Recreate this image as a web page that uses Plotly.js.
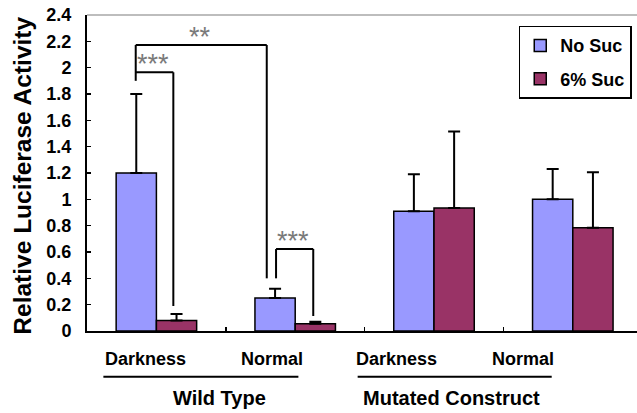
<!DOCTYPE html>
<html>
<head>
<meta charset="utf-8">
<script src="https://cdn.plot.ly/plotly-3.0.1.min.js"></script>
<style>html,body{margin:0;padding:0;background:#fff;}#chart{width:637px;height:413px;}</style>
</head>
<body>
<div id="chart"></div>
<script>
// ---- data ----
const categories = ["WT Darkness", "WT Normal", "MC Darkness", "MC Normal"];
const conditionLabels = ["Darkness", "Normal", "Darkness", "Normal"];
const groupLabels = ["Wild Type", "Mutated Construct"];
const seriesNames = ["No Suc", "6% Suc"];
const noSucValues = [1.20, 0.25, 0.91, 1.00];
const noSucErrors = [0.60, 0.07, 0.28, 0.23];
const sucValues = [0.08, 0.055, 0.935, 0.785];
const sucErrors = [0.05, 0.015, 0.58, 0.42];
const yTicks = [0, 0.2, 0.4, 0.6, 0.8, 1, 1.2, 1.4, 1.6, 1.8, 2, 2.2, 2.4];
const yTitle = "Relative Luciferase Activity";
const sigLabels = ["**", "***", "***"];

const FONT = "Liberation Sans, Arial, sans-serif";
const zeros = a => a.map(() => 0);

const traces = [
  {type: "bar", name: seriesNames[0], x: categories, y: noSucValues, legendgroup: "a",
   marker: {color: "#9999ff", line: {color: "#000", width: 1.5}},
   error_y: {type: "data", symmetric: false, array: noSucErrors, arrayminus: zeros(noSucErrors),
             color: "#000", thickness: 2, width: 6}},
  {type: "bar", name: seriesNames[1], x: categories, y: sucValues, legendgroup: "b",
   marker: {color: "#993366", line: {color: "#000", width: 1.5}},
   error_y: {type: "data", symmetric: false, array: sucErrors, arrayminus: zeros(sucErrors),
             color: "#000", thickness: 2, width: 6}}
];

const bl = {color: "#000", width: 2};
function seg(x0, y0, x1, y1) {
  return {type: "line", xref: "x", yref: "y", x0, y0, x1, y1, line: bl, layer: "above"};
}
const shapes = [
  // top frame line
  {type: "line", xref: "paper", yref: "paper", x0: 0, x1: 1, y0: 1, y1: 1, line: {color: "#bdbdbd", width: 2}},
  // ** bracket
  seg(-0.149, 1.90, -0.149, 2.172), seg(-0.149, 2.172, 0.795, 2.172), seg(0.795, 2.172, 0.795, 0.40),
  // *** bracket 1
  seg(-0.149, 1.965, 0.122, 1.965), seg(0.122, 1.965, 0.122, 0.19),
  // *** bracket 2
  seg(0.862, 0.40, 0.862, 0.623), seg(0.862, 0.623, 1.130, 0.623), seg(1.130, 0.623, 1.130, 0.114),
  // group underlines
  {type: "line", xref: "x", yref: "paper", x0: -0.382, x1: 1.023, y0: -0.145, y1: -0.145, line: {color: "#000", width: 2}},
  {type: "line", xref: "x", yref: "paper", x0: 1.450, x1: 2.848, y0: -0.145, y1: -0.145, line: {color: "#000", width: 2}}
];

const condX = [-0.075, 0.831, 1.731, 2.641];
const annotations = [];
conditionLabels.forEach((t, i) => annotations.push({
  text: t, xref: "x", yref: "paper", x: condX[i], y: -0.09, xanchor: "center", yanchor: "middle",
  showarrow: false, font: {family: FONT, size: 18, color: "#000", weight: "bold"}
}));
const groupX = [0.453, 2.127];
groupLabels.forEach((t, i) => annotations.push({
  text: t, xref: "x", yref: "paper", x: groupX[i], y: -0.212, xanchor: "center", yanchor: "middle",
  showarrow: false, font: {family: FONT, size: 20, color: "#000", weight: "bold"}
}));
const sigPos = [[0.314, 2.172], [-0.025, 1.965], [0.984, 0.623]];
sigLabels.forEach((t, i) => annotations.push({
  text: t, xref: "x", yref: "y", x: sigPos[i][0], y: sigPos[i][1], xanchor: "center", yanchor: "bottom",
  yshift: -9, showarrow: false, font: {family: FONT, size: 27, color: "#7a7a7a"}
}));
annotations.push({
  text: yTitle, xref: "paper", yref: "paper", x: -0.118, y: 0.492, xanchor: "center", yanchor: "middle",
  textangle: -90, showarrow: false, font: {family: FONT, size: 24.5, color: "#000", weight: "bold"}
});

const layout = {
  width: 637, height: 413,
  margin: {l: 87, r: 0, t: 15, b: 82, pad: 0},
  paper_bgcolor: "#fff", plot_bgcolor: "#fff",
  barmode: "group", bargap: 0.42, bargroupgap: 0,
  showlegend: true,
  legend: {x: 0.785, y: 0.966, xanchor: "left", yanchor: "top", bgcolor: "#fff",
           bordercolor: "#000", borderwidth: 1.5, traceorder: "grouped", tracegroupgap: 7,
           itemwidth: 30,
           font: {family: FONT, size: 18, color: "#000", weight: "bold"}},
  xaxis: {type: "category", range: [-0.5, 3.4625], showticklabels: false, ticks: "inside",
          tickson: "boundaries", ticklen: 4, tickwidth: 1.5, tickcolor: "#000",
          showline: true, linecolor: "#000", linewidth: 2, showgrid: false, zeroline: false,
          automargin: false, fixedrange: true},
  yaxis: {range: [0, 2.4], tickvals: yTicks, ticks: "inside", ticklen: 4, tickwidth: 1.5, tickcolor: "#000",
          showline: true, linecolor: "#000", linewidth: 2, showgrid: false, zeroline: false,
          ticklabelstandoff: 10,
          tickfont: {family: FONT, size: 18, color: "#000", weight: "bold"}, automargin: false},
  shapes, annotations
};

Plotly.newPlot("chart", traces, layout, {displayModeBar: false, staticPlot: true});
</script>
</body>
</html>
